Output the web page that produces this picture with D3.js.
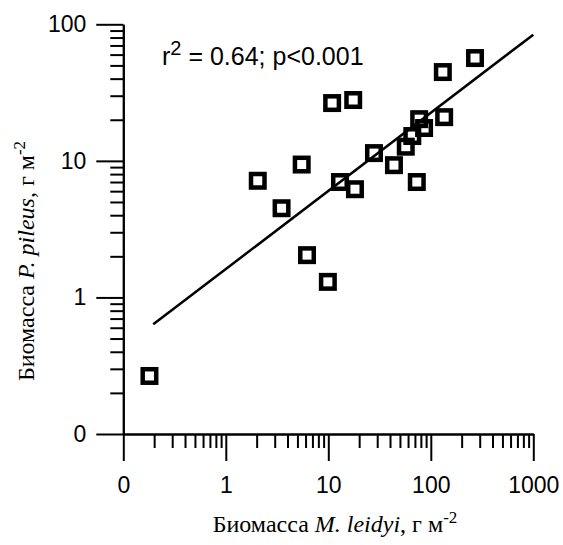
<!DOCTYPE html>
<html>
<head>
<meta charset="utf-8">
<script src="https://cdn.jsdelivr.net/npm/d3@7"></script>
<style>
  body { margin: 0; background: #fff; }
  .axis text { font-family: Arial, "Liberation Sans", sans-serif; font-size: 23px; fill: #000; }
  .axis line, .axis path { stroke: #000; stroke-width: 2px; }
  .title { font-family: "Times New Roman", "Liberation Serif", serif; font-size: 24px; }
  .note { font-family: Arial, "Liberation Sans", sans-serif; font-size: 25px; }
</style>
</head>
<body>
<div id="chart"></div>
<script>
// biomass of M. leidyi (x) and P. pileus (y), g m-2
const leidyi = [0.18, 2.05, 5.5, 3.5, 6.2, 9.9, 13, 18.2, 10.9, 17.5, 27.9, 43.7, 57, 66, 77, 86, 73, 135, 131, 270];
const pileus = [0.266, 7.15, 9.4, 4.5, 2.04, 1.3, 7.0, 6.2, 26.5, 27.9, 11.4, 9.3, 12.7, 15.2, 20.2, 17.4, 7.0, 20.9, 44.7, 56.6];

// regression line end points
const fitX = [0.196, 1000];
const fitY = [0.635, 84];

const xMajor = [0.1, 1, 10, 100, 1000];
const yMajor = [0.1, 1, 10, 100];
const xLabels = ["0", "1", "10", "100", "1000"];
const yLabels = ["0", "1", "10", "100"];

const width = 563, height = 545;

const minors = (domainTop) => {
  const out = [];
  for (let d = 0.1; d < domainTop; d *= 10) {
    for (let k = 2; k <= 9; k++) out.push(+(d * k).toPrecision(3));
  }
  return out;
};

const svg = d3.select("#chart").append("svg")
  .attr("width", width)
  .attr("height", height);

const x = d3.scaleLog().domain([0.1, 1000]).range([123.3, 533.3]);
const y = d3.scaleLog().domain([0.1, 100]).range([434, 24.3]);

// x axis
svg.append("g")
  .attr("class", "axis")
  .attr("transform", "translate(0," + y(0.1) + ")")
  .call(d3.axisBottom(x).tickValues(minors(1000)).tickSize(14).tickSizeOuter(0).tickFormat(""));

svg.append("g")
  .attr("class", "axis")
  .attr("transform", "translate(0," + y(0.1) + ")")
  .call(d3.axisBottom(x).tickValues(xMajor).tickSize(27).tickSizeOuter(0).tickPadding(16)
    .tickFormat((d, i) => xLabels[i]));

// y axis
svg.append("g")
  .attr("class", "axis")
  .attr("transform", "translate(" + x(0.1) + ",0)")
  .call(d3.axisLeft(y).tickValues(minors(100)).tickSize(13).tickSizeOuter(0).tickFormat(""));

svg.append("g")
  .attr("class", "axis")
  .attr("transform", "translate(" + x(0.1) + ",0)")
  .call(d3.axisLeft(y).tickValues(yMajor).tickSize(27).tickSizeOuter(0).tickPadding(10)
    .tickFormat((d, i) => yLabels[i]));

// regression line
svg.append("line")
  .attr("x1", x(fitX[0])).attr("y1", y(fitY[0]))
  .attr("x2", x(fitX[1])).attr("y2", y(fitY[1]))
  .attr("stroke", "#000")
  .attr("stroke-width", 2.5);

// points
const side = 13.5;
svg.selectAll(".pt")
  .data(leidyi)
  .enter().append("rect")
  .attr("class", "pt")
  .attr("x", d => x(d) - side / 2)
  .attr("y", (d, i) => y(pileus[i]) - side / 2)
  .attr("width", side)
  .attr("height", side)
  .attr("fill", "none")
  .attr("stroke", "#000")
  .attr("stroke-width", 4.5);

// statistics
const note = svg.append("text")
  .attr("class", "note")
  .attr("x", 162)
  .attr("y", 65);
note.append("tspan").text("r");
note.append("tspan").attr("dy", -10).attr("font-size", 20).text("2");
note.append("tspan").attr("dy", 10).text(" = 0.64; p<0.001");

// axis titles
const xTitle = svg.append("text")
  .attr("class", "title")
  .attr("text-anchor", "middle")
  .attr("x", 335)
  .attr("y", 532);
xTitle.append("tspan").text("Биомасса ");
xTitle.append("tspan").attr("font-style", "italic").text("M. leidyi");
xTitle.append("tspan").text(", г м");
xTitle.append("tspan").attr("dy", -9).attr("font-size", 17).text("-2");

const yTitle = svg.append("text")
  .attr("class", "title")
  .attr("text-anchor", "middle")
  .attr("transform", "translate(34,261) rotate(-90)");
yTitle.append("tspan").text("Биомасса ");
yTitle.append("tspan").attr("font-style", "italic").text("P. pileus");
yTitle.append("tspan").text(", г м");
yTitle.append("tspan").attr("dy", -9).attr("font-size", 17).text("-2");
</script>
</body>
</html>
